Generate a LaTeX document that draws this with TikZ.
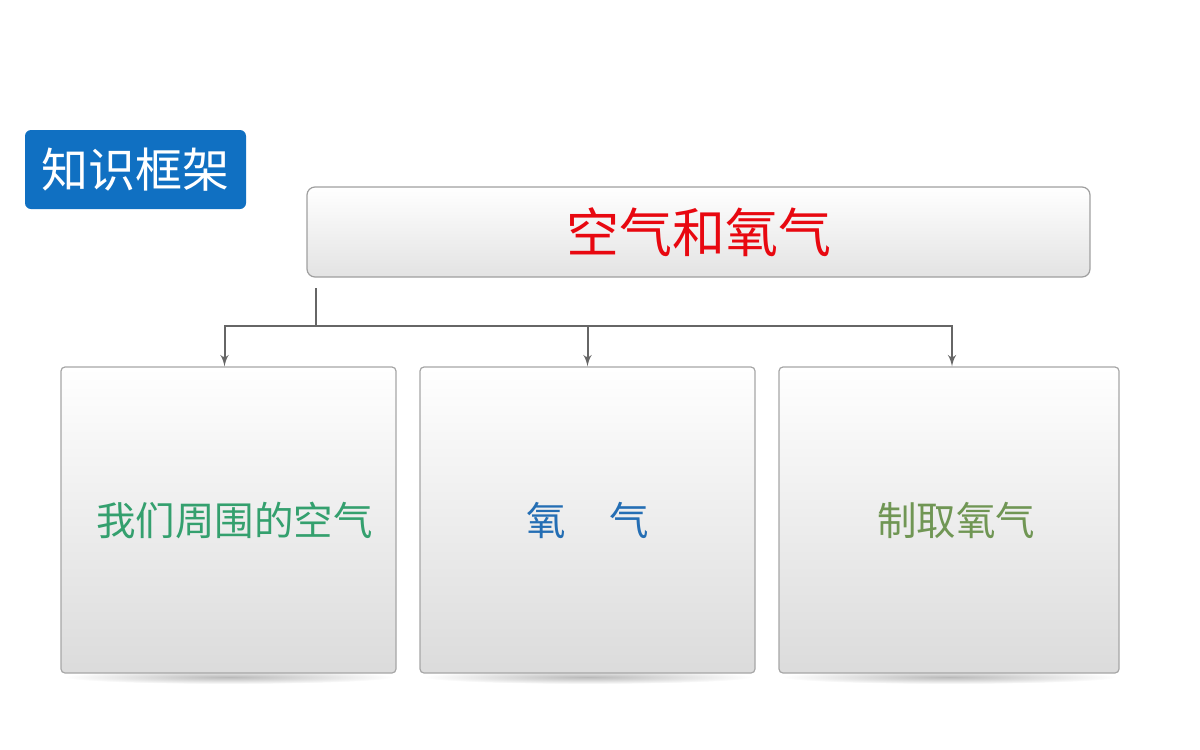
\documentclass[tikz,border=0pt]{standalone}
\usepackage{fontspec}
\newfontfamily\cjk{Noto Sans CJK SC}
\usetikzlibrary{arrows}

\definecolor{kblue}{RGB}{16,112,194}
\definecolor{tred}{RGB}{232,8,16}
\definecolor{tgreen}{RGB}{52,160,110}
\definecolor{tblue}{RGB}{36,110,180}
\definecolor{tolive}{RGB}{112,150,84}

\begin{document}
\begin{tikzpicture}[x=0.5pt,y=-0.5pt]
      \tikzset { tag/.style = { rectangle,rounded corners=3pt,fill=kblue,text=white,
                 minimum width=110.5pt,minimum height=39.5pt,font=\cjk\fontsize{23.5}{24}\selectfont } }
      \tikzset { topbox/.style = { rectangle,rounded corners=4pt,draw=gray!75,line width=0.6pt,
                 top color=white,bottom color=gray!22,minimum width=391.5pt,minimum height=45pt,
                 font=\cjk\fontsize{26.5}{27}\selectfont } }
      \tikzset { subbox/.style = { rectangle,rounded corners=2pt,draw=gray!70,line width=0.6pt,
                 top color=white,bottom color=gray!28,minimum width=167.5pt,minimum height=153pt,
                 font=\cjk\fontsize{19.75}{20}\selectfont } }
      \tikzset { line/.style = { draw=gray!80!black,line width=1pt } }
      \tikzset { edge/.style = { line,->,> = latex' } }

      \useasboundingbox (0,0) rectangle (1200,750);

      % soft shadows under the lower boxes
      \shade[inner color=gray!55,outer color=white] (228.5,677) ellipse (165 and 7);
      \shade[inner color=gray!55,outer color=white] (587.5,677) ellipse (165 and 7);
      \shade[inner color=gray!55,outer color=white] (949,677) ellipse (168 and 7);

      \node[tag] (frame) at (135.5,169.5) {知识框架};
      \node[topbox,text=tred] (air) at (698.5,232) {空气和氧气};

      \node[subbox,text=tgreen] (around) at (228.5,520) {\hspace{6pt}我们周围的空气};
      \node[subbox,text=tblue] (oxygen) at (587.5,520) {氧\hspace{1.1em}气};
      \node[subbox,text=tolive,minimum width=170pt] (make) at (949,520) {\hspace{7pt}制取氧气};

      \coordinate (stem) at (316,288);
      \coordinate (bus) at (316,326);

      \draw[line] (stem) to (bus);
      \draw[edge] (bus) -| ([xshift=-2pt]around.north);
      \draw[edge] (bus) -| (oxygen.north);
      \draw[edge] (bus) -| ([xshift=1.5pt]make.north);

    \end{tikzpicture}
\end{document}
